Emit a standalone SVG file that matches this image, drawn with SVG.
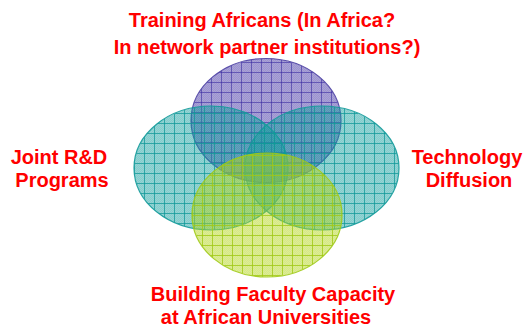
<svg xmlns="http://www.w3.org/2000/svg" width="526" height="329" viewBox="0 0 526 329">
  <style>
    .lbl { font-family: "Liberation Sans", Arial, sans-serif; font-weight: bold; font-size: 20px; fill: #ff0000; }
  </style>
  <defs>
    <pattern id="ckP" width="2" height="2" patternUnits="userSpaceOnUse">
      <rect width="2" height="2" fill="#3a2ca2" fill-opacity="0.44"/>
      <rect width="1" height="1" fill="#3a2ca2" fill-opacity="0.12"/>
      <rect x="1" y="1" width="1" height="1" fill="#3a2ca2" fill-opacity="0.12"/>
    </pattern>
    <pattern id="gP" width="10" height="10" patternUnits="userSpaceOnUse" x="1" y="2">
      <rect width="10" height="10" fill="url(#ckP)"/>
      <path d="M0 0.5H10M0.5 0V10" stroke="#3a2ca2" stroke-opacity="0.6" stroke-width="1"/>
    </pattern>
    <pattern id="ckT" width="2" height="2" patternUnits="userSpaceOnUse">
      <rect width="2" height="2" fill="#109c9c" fill-opacity="0.44"/>
      <rect width="1" height="1" fill="#109c9c" fill-opacity="0.14"/>
      <rect x="1" y="1" width="1" height="1" fill="#109c9c" fill-opacity="0.14"/>
    </pattern>
    <pattern id="gT" width="10" height="10" patternUnits="userSpaceOnUse" x="4" y="3">
      <rect width="10" height="10" fill="url(#ckT)"/>
      <path d="M0 0.5H10M0.5 0V10" stroke="#0e9898" stroke-opacity="0.75" stroke-width="1"/>
    </pattern>
    <pattern id="ckY" width="2" height="2" patternUnits="userSpaceOnUse">
      <rect width="2" height="2" fill="#b2d41a" fill-opacity="0.46"/>
      <rect width="1" height="1" fill="#b2d41a" fill-opacity="0.14"/>
      <rect x="1" y="1" width="1" height="1" fill="#b2d41a" fill-opacity="0.14"/>
    </pattern>
    <pattern id="gY" width="10" height="10" patternUnits="userSpaceOnUse" x="2" y="5">
      <rect width="10" height="10" fill="url(#ckY)"/>
      <path d="M0 0.5H10M0.5 0V10" stroke="#a0c814" stroke-opacity="0.8" stroke-width="1"/>
    </pattern>
  </defs>

  <g id="node-training">
    <ellipse cx="266" cy="120.5" rx="75" ry="62" fill="url(#gP)" stroke="#4a3ea2" stroke-opacity="0.9" stroke-width="1.2"/>
  </g>
  <g id="node-joint">
    <ellipse cx="211" cy="168" rx="77" ry="62" fill="url(#gT)" stroke="#129a9a" stroke-opacity="0.9" stroke-width="1.2"/>
  </g>
  <g id="node-technology">
    <ellipse cx="322" cy="168" rx="77" ry="62" fill="url(#gT)" stroke="#129a9a" stroke-opacity="0.9" stroke-width="1.2"/>
  </g>
  <g id="node-building">
    <ellipse cx="267" cy="215" rx="75" ry="62" fill="url(#gY)" stroke="#a0ca16" stroke-opacity="0.9" stroke-width="1.2"/>
  </g>

  <g id="connectors"></g>

  <g id="labels">
    <text class="lbl" x="262" y="27" text-anchor="middle">Training Africans (In Africa?</text>
    <text class="lbl" x="267" y="54" text-anchor="middle">In network partner institutions?)</text>
    <text class="lbl" x="59" y="164" text-anchor="middle">Joint R&amp;D</text>
    <text class="lbl" x="62" y="187" text-anchor="middle">Programs</text>
    <text class="lbl" x="467" y="164" text-anchor="middle">Technology</text>
    <text class="lbl" x="469" y="187" text-anchor="middle">Diffusion</text>
    <text class="lbl" x="273" y="301" text-anchor="middle">Building Faculty Capacity</text>
    <text class="lbl" x="266" y="324" text-anchor="middle">at African Universities</text>
  </g>
</svg>
